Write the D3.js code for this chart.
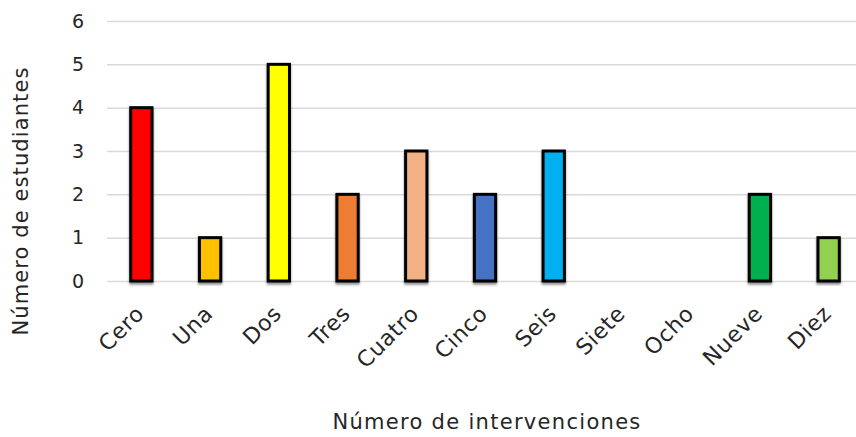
<!DOCTYPE html>
<html>
<head>
<meta charset="utf-8">
<script src="https://cdn.jsdelivr.net/npm/d3@7"></script>
<style>
  html, body { margin: 0; padding: 0; background: #fff; }
  svg { display: block; }
  text { font-family: "DejaVu Sans", "Open Sans", sans-serif; fill: #262626; }
</style>
</head>
<body>
<svg id="chart" width="856" height="437"></svg>
<script>
// Number of interventions (category) and number of students per category
const categories = ["Cero", "Una", "Dos", "Tres", "Cuatro", "Cinco", "Seis", "Siete", "Ocho", "Nueve", "Diez"];
const students = [4, 1, 5, 2, 3, 2, 3, 0, 0, 2, 1];
const barColors = ["#FF0000", "#FFC000", "#FFFF00", "#ED7D31", "#F4B183", "#4472C4", "#00B0F0", "#A5A5A5", "#70AD47", "#00B050", "#92D050"];
const yTicks = [0, 1, 2, 3, 4, 5, 6];

const svg = d3.select("#chart");
const margin = { left: 107, right: -7, top: 21, bottom: 156 };
const W = 856, H = 437;

const x = d3.scaleBand()
  .domain(categories)
  .range([margin.left, W - margin.right])
  .paddingInner(0.69)
  .paddingOuter(0.345);

const y = d3.scaleLinear()
  .domain([0, 6])
  .range([H - margin.bottom, margin.top]);

// soft shadow under the bars
const defs = svg.append("defs");
const f = defs.append("filter").attr("id", "shadow")
  .attr("x", "-20%").attr("y", "-5%").attr("width", "140%").attr("height", "115%");
f.append("feDropShadow").attr("dx", 0).attr("dy", 2.2).attr("stdDeviation", 0.9)
  .attr("flood-color", "#000").attr("flood-opacity", 0.45);

// horizontal gridlines
const grid = svg.append("g")
  .attr("transform", `translate(${margin.left},0)`)
  .call(d3.axisLeft(y).tickValues(yTicks).tickSize(-(W - margin.left)).tickFormat(""));
grid.select(".domain").remove();
grid.selectAll(".tick line").attr("stroke", "#d9d9d9").attr("stroke-width", 1.5);

// y tick labels
const yAxis = svg.append("g")
  .attr("transform", `translate(${margin.left},0)`)
  .call(d3.axisLeft(y).tickValues(yTicks).tickSize(0).tickPadding(23).tickFormat(d3.format("d")));
yAxis.select(".domain").remove();
yAxis.selectAll("text")
  .style("font-family", '"DejaVu Sans", sans-serif')
  .attr("font-size", 19).attr("fill", "#262626");

// bars
svg.append("g").selectAll("rect")
  .data(categories.map((c, i) => ({ c, v: students[i], color: barColors[i] })).filter(d => d.v > 0))
  .join("rect")
  .attr("x", d => x(d.c))
  .attr("y", d => y(d.v))
  .attr("width", x.bandwidth())
  .attr("height", d => y(0) - y(d.v))
  .attr("fill", d => d.color)
  .attr("stroke", "#000")
  .attr("stroke-width", 3)
  .attr("filter", "url(#shadow)");

// x axis labels, rotated
const xAxis = svg.append("g")
  .attr("transform", `translate(0,${y(0)})`)
  .call(d3.axisBottom(x).tickSize(0).tickPadding(0));
xAxis.select(".domain").remove();
xAxis.selectAll("text")
  .style("font-family", '"DejaVu Sans", sans-serif')
  .attr("font-size", 22).attr("fill", "#262626")
  .attr("letter-spacing", 0.6)
  .attr("text-anchor", "end")
  .attr("dy", 0)
  .attr("transform", "translate(4,34) rotate(-45)");

// axis titles
svg.append("text")
  .attr("x", 487).attr("y", 429)
  .attr("text-anchor", "middle")
  .attr("font-size", 21)
  .attr("letter-spacing", 1.3)
  .text("Número de intervenciones");

svg.append("text")
  .attr("transform", "translate(28,201) rotate(-90)")
  .attr("text-anchor", "middle")
  .attr("font-size", 21)
  .attr("letter-spacing", 1.1)
  .text("Número de estudiantes");
</script>
</body>
</html>
